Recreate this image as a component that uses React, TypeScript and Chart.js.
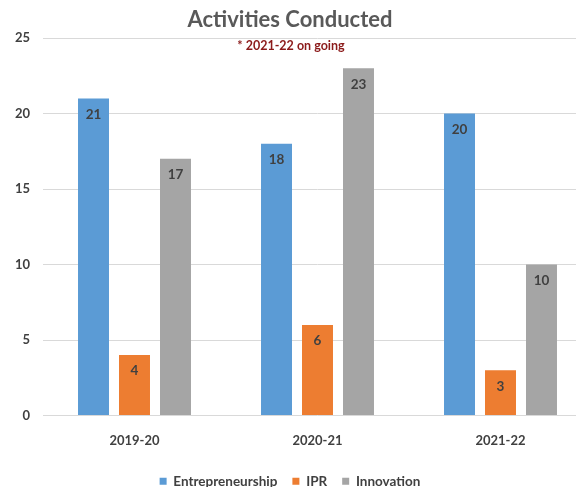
import { useEffect, useRef } from 'react';
import { Chart, registerables } from 'chart.js';

Chart.register(...registerables);

const categories = ['2019-20', '2020-21', '2021-22'];
const entrepreneurship = [21, 18, 20];
const ipr = [4, 6, 3];
const innovation = [17, 23, 10];
const seriesNames = ['Entrepreneurship', 'IPR', 'Innovation'];
const yMin = 0;
const yMax = 25;
const yStep = 5;
const titleText = 'Activities Conducted';
const subtitleText = '* 2021-22 on going';

const FONT = 'Lato, "Open Sans", sans-serif';

const barLabels = {
  id: 'barLabels',
  afterDatasetsDraw(chart: any) {
    const ctx = chart.ctx;
    ctx.save();
    ctx.font = `bold 13.5px ${FONT}`;
    ctx.fillStyle = '#404040';
    ctx.textAlign = 'center';
    ctx.textBaseline = 'middle';
    chart.data.datasets.forEach((ds: any, i: number) => {
      const meta = chart.getDatasetMeta(i);
      meta.data.forEach((bar: any, j: number) => {
        ctx.fillText(String(ds.data[j]), bar.x, bar.y + 16);
      });
    });
    ctx.restore();
  },
};

const subtitlePlugin = {
  id: 'insideSubtitle',
  afterDraw(chart: any) {
    const ctx = chart.ctx;
    ctx.save();
    ctx.font = `bold 12.5px ${FONT}`;
    ctx.fillStyle = '#8b1a1a';
    ctx.textAlign = 'center';
    ctx.textBaseline = 'middle';
    ctx.fillText(subtitleText, chart.width / 2 + 1, chart.chartArea.top + 8);
    ctx.restore();
  },
};

export default function App() {
  const ref = useRef<HTMLCanvasElement | null>(null);

  useEffect(() => {
    if (!ref.current) return;
    const chart = new Chart(ref.current, {
      type: 'bar',
      data: {
        labels: categories,
        datasets: [
          { label: seriesNames[0], data: entrepreneurship, backgroundColor: '#5b9bd5' },
          { label: seriesNames[1], data: ipr, backgroundColor: '#ed7d31' },
          { label: seriesNames[2], data: innovation, backgroundColor: '#a5a5a5' },
        ],
      },
      options: {
        responsive: false,
        animation: false,
        devicePixelRatio: 1,
        layout: { padding: 0 },
        datasets: {
          bar: { categoryPercentage: 0.672, barPercentage: 0.756 },
        },
        plugins: {
          title: {
            display: true,
            text: titleText,
            color: '#595959',
            font: { family: FONT, size: 22, weight: 'bold', lineHeight: 1.1 },
            padding: { top: 8, bottom: 5.8 },
          },
          legend: {
            position: 'bottom',
            labels: {
              boxWidth: 7,
              boxHeight: 7,
              padding: 15,
              color: '#404040',
              font: { family: FONT, size: 13.5, weight: 'bold' },
            },
          },
          tooltip: { enabled: false },
        },
        scales: {
          x: {
            grid: { display: false, drawTicks: false },
            border: { display: false },
            ticks: {
              padding: 18,
              color: '#404040',
              font: { family: FONT, size: 13, weight: 'bold' },
            },
            afterFit: (s: any) => {
              s.height = 44;
            },
          },
          y: {
            min: yMin,
            max: yMax,
            ticks: {
              stepSize: yStep,
              padding: 13,
              color: '#404040',
              font: { family: FONT, size: 13, weight: 'bold' },
            },
            grid: { color: '#d9d9d9', drawTicks: false, lineWidth: 1 },
            border: { display: false },
            afterFit: (s: any) => {
              s.width = 55;
            },
          },
        },
      },
      plugins: [barLabels, subtitlePlugin],
    } as any);
    return () => chart.destroy();
  }, []);

  return (
    <div
      style={{
        position: 'fixed',
        left: 0,
        top: 0,
        width: 576,
        height: 487,
        overflow: 'hidden',
        background: '#ffffff',
      }}
    >
      <div style={{ position: 'absolute', left: -12, top: 0, width: 604, height: 498 }}>
        <canvas ref={ref} width={604} height={498} style={{ width: 604, height: 498 }} />
      </div>
    </div>
  );
}
